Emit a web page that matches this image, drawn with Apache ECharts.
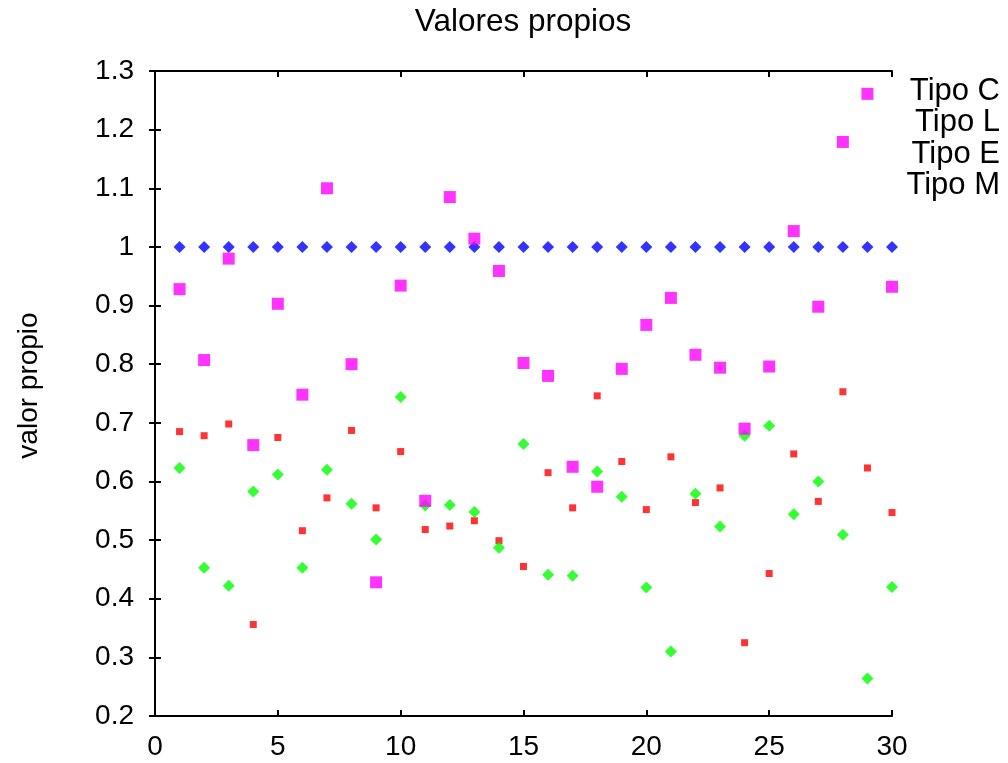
<!DOCTYPE html>
<html>
<head>
<meta charset="utf-8">
<script src="https://cdn.jsdelivr.net/npm/echarts@6/dist/echarts.min.js"></script>
<style>
html, body { margin: 0; padding: 0; background: #fff; }
#chart { width: 1008px; height: 763px; }
</style>
</head>
<body>
<div id="chart"></div>
<script>
var indices = [1, 2, 3, 4, 5, 6, 7, 8, 9, 10, 11, 12, 13, 14, 15, 16, 17, 18, 19, 20, 21, 22, 23, 24, 25, 26, 27, 28, 29, 30];

var tipoC = [0.685, 0.678, 0.698, 0.356, 0.675, 0.516, 0.572, 0.687, 0.555, 0.651,
    0.518, 0.524, 0.533, 0.499, 0.455, 0.615, 0.555, 0.746, 0.634, 0.552,
    0.642, 0.564, 0.589, 0.325, 0.443, 0.647, 0.566, 0.753, 0.623, 0.547];

var tipoL = [0.623, 0.453, 0.422, 0.583, 0.612, 0.453, 0.620, 0.562, 0.501, 0.744,
    0.559, 0.560, 0.548, 0.487, 0.664, 0.441, 0.439, 0.617, 0.574, 0.419,
    0.310, 0.579, 0.523, 0.678, 0.695, 0.544, 0.600, 0.509, 0.264, 0.420];

var tipoE = [1, 1, 1, 1, 1, 1, 1, 1, 1, 1, 1, 1, 1, 1, 1, 1, 1, 1, 1, 1,
    1, 1, 1, 1, 1, 1, 1, 1, 1, 1];

var tipoM = [0.928, 0.807, 0.980, 0.662, 0.903, 0.748, 1.100, 0.800, 0.428, 0.934,
    0.567, 1.085, 1.014, 0.959, 0.802, 0.780, 0.625, 0.591, 0.792, 0.867,
    0.913, 0.816, 0.794, 0.690, 0.796, 1.027, 0.898, 1.179, 1.261, 0.932];

var seriesNames = ['Tipo C', 'Tipo L', 'Tipo E', 'Tipo M'];

function pairs(vals) {
    return indices.map(function (x, i) { return [x, vals[i]]; });
}

var font = 'Liberation Sans, Arial, sans-serif';
var chart = echarts.init(document.getElementById('chart'));

var frameLine = { show: true, lineStyle: { color: '#000', width: 2 } };
var innerTick = { show: true, inside: true, length: 6, lineStyle: { color: '#000', width: 2 } };

// legend entries are plain right-aligned text (key symbols fall off the canvas)
var keyTexts = seriesNames.map(function (name, i) {
    return {
        type: 'text', x: 1000, y: 91 + i * 31.5,
        style: { text: name, fontFamily: font, fontSize: 31, fill: '#000', align: 'right', verticalAlign: 'middle' }
    };
});

var option = {
    animation: false,
    backgroundColor: '#fff',
    grid: { left: 155, right: 116, top: 71, bottom: 47, containLabel: false },
    xAxis: [{
        type: 'value', min: 0, max: 30, interval: 5,
        axisLine: frameLine, axisTick: innerTick, splitLine: { show: false },
        axisLabel: { fontFamily: font, fontSize: 28, color: '#000', margin: 17 }
    }, {
        type: 'value', position: 'top', min: 0, max: 30, interval: 5,
        axisLine: frameLine, axisTick: innerTick, splitLine: { show: false },
        axisLabel: { show: false }
    }],
    yAxis: [{
        type: 'value', min: 0.2, max: 1.3, interval: 0.1,
        name: 'valor propio', nameLocation: 'middle', nameGap: 112, nameRotate: 90,
        nameTextStyle: { fontFamily: font, fontSize: 28, color: '#000', padding: [0, 0, 0, 16] },
        axisLine: frameLine, axisTick: innerTick, splitLine: { show: false },
        axisLabel: { fontFamily: font, fontSize: 28, color: '#000', margin: 21 }
    }, {
        type: 'value', position: 'right', min: 0.2, max: 1.3, interval: 0.1,
        axisLine: frameLine, axisTick: innerTick, splitLine: { show: false },
        axisLabel: { show: false }
    }],
    graphic: [{
        type: 'text', x: 523, y: 22,
        style: { text: 'Valores propios', fontFamily: font, fontSize: 31.5, fill: '#000', align: 'center', verticalAlign: 'middle' }
    }].concat(keyTexts),
    series: [{
        name: seriesNames[0], type: 'scatter', data: pairs(tipoC),
        symbol: 'rect', symbolSize: 7, itemStyle: { color: '#ff0000' }
    }, {
        name: seriesNames[1], type: 'scatter', data: pairs(tipoL),
        symbol: 'diamond', symbolSize: 12, itemStyle: { color: '#00ff00' }
    }, {
        name: seriesNames[2], type: 'scatter', data: pairs(tipoE),
        symbol: 'diamond', symbolSize: 12, itemStyle: { color: '#0000ff' }
    }, {
        name: seriesNames[3], type: 'scatter', data: pairs(tipoM),
        symbol: 'rect', symbolSize: 12, itemStyle: { color: '#ff00ff' }
    }]
};

chart.setOption(option);
</script>
</body>
</html>
